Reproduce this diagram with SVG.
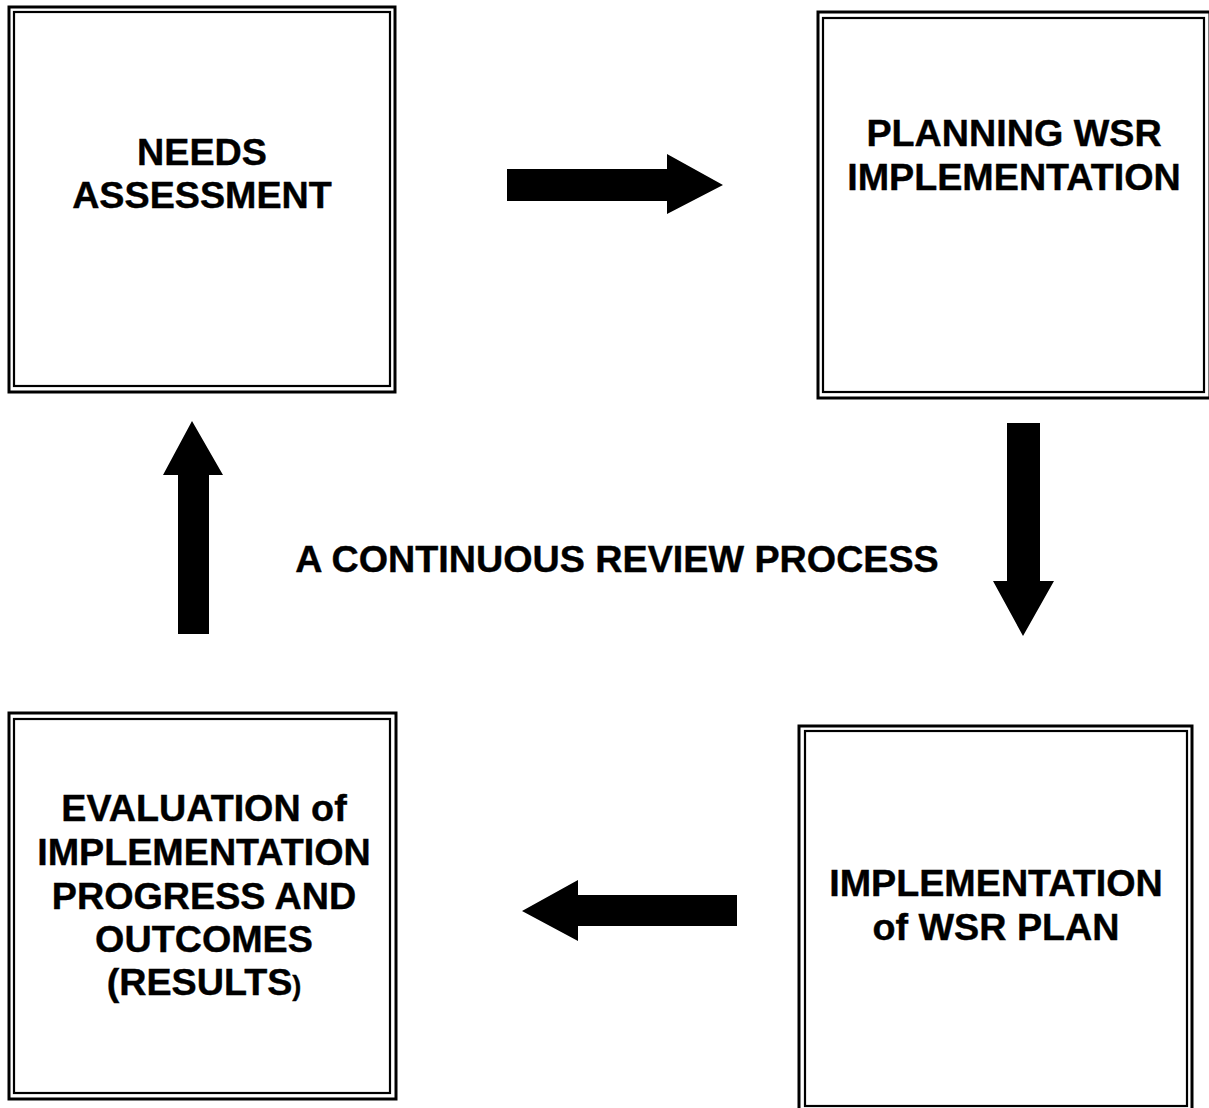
<svg xmlns="http://www.w3.org/2000/svg" width="1209" height="1108" viewBox="0 0 1209 1108">
  <style>
    .outer { fill: none; stroke: #000; stroke-width: 3; }
    .inner { fill: none; stroke: #000; stroke-width: 2.2; }
    .label { font-family: "Liberation Sans", Arial, sans-serif; font-weight: bold; font-size: 37.7px; fill: #000; text-anchor: middle; stroke: #000; stroke-width: 0.4; }
    .arrow { fill: #000; }
  </style>
  <rect width="1209" height="1108" fill="#fff"/>

  <!-- Stage boxes: double-ruled frames -->
  <g id="needs-assessment">
    <rect class="outer" x="9" y="7" width="386" height="385"/>
    <rect class="inner" x="14" y="12" width="376" height="374"/>
    <text class="label" x="202" y="165">NEEDS</text>
    <text class="label" x="202" y="208">ASSESSMENT</text>
  </g>

  <g id="planning">
    <rect class="outer" x="818" y="12" width="392" height="386"/>
    <rect class="inner" x="823" y="18" width="381" height="374"/>
    <text class="label" x="1014" y="146">PLANNING WSR</text>
    <text class="label" x="1014" y="190">IMPLEMENTATION</text>
  </g>

  <g id="evaluation">
    <rect class="outer" x="9" y="713" width="387" height="386"/>
    <rect class="inner" x="14" y="719" width="376" height="374"/>
    <text class="label" x="204" y="821">EVALUATION of</text>
    <text class="label" x="204" y="865">IMPLEMENTATION</text>
    <text class="label" x="204" y="909">PROGRESS AND</text>
    <text class="label" x="204" y="952">OUTCOMES</text>
    <text class="label" x="204" y="995">(RESULTS<tspan font-size="27">)</tspan></text>
  </g>

  <g id="implementation">
    <rect class="outer" x="799" y="726" width="393" height="386"/>
    <rect class="inner" x="805" y="731" width="382" height="375"/>
    <text class="label" x="996" y="896">IMPLEMENTATION</text>
    <text class="label" x="996" y="940">of WSR PLAN</text>
  </g>

  <!-- Cycle title -->
  <g id="cycle-title">
    <text class="label" x="617" y="572">A CONTINUOUS REVIEW PROCESS</text>
  </g>

  <!-- Block arrows between stages -->
  <g id="connectors">
    <polygon class="arrow" points="507,169 667,169 667,154 723,185 667,214 667,201 507,201"/>
    <polygon class="arrow" points="1007,423 1040,423 1040,581 1054,581 1023,636 993,581 1007,581"/>
    <polygon class="arrow" points="737,895 578,895 578,880 522,911 578,941 578,926 737,926"/>
    <polygon class="arrow" points="178,634 178,475 163,475 192,421 223,475 209,475 209,634"/>
  </g>
</svg>
